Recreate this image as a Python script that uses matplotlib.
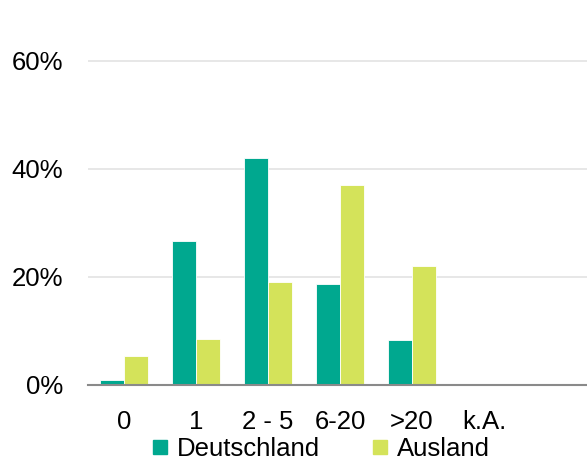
import matplotlib.pyplot as plt
from matplotlib.lines import Line2D
import numpy as np

categories = ["0", "1", "2 - 5", "6-20", ">20", "k.A.", ""]
deutschland = [0.009, 0.267, 0.420, 0.187, 0.083, 0.0, 0.0]
ausland = [0.054, 0.085, 0.190, 0.370, 0.220, 0.0, 0.0]
yticks = [0, 0.2, 0.4, 0.6]
ytick_labels = ["0%", "20%", "40%", "60%"]

teal = "#00A88F"
lime = "#D4E35A"

plt.rcParams['font.family'] = ['Liberation Sans', 'DejaVu Sans']
fs = 18.5

fig = plt.figure(figsize=(5.87, 4.68), dpi=100)
ax = fig.add_axes([88/587, 1 - 385/468, 1 - 88/587, (385 - 50.2)/468])

x = np.arange(len(categories))
w = 0.33
ax.bar(x - w/2, deutschland, w, color=teal, edgecolor="white", linewidth=0.6, zorder=3)
ax.bar(x + w/2, ausland, w, color=lime, edgecolor="white", linewidth=0.6, zorder=3)

ax.set_xlim(-0.5, 6.43)
ax.set_ylim(0, 0.62)
ax.set_yticks(yticks)
ax.set_yticklabels(ytick_labels, fontsize=fs)
ax.set_xticks(x)
ax.set_xticklabels(categories, fontsize=fs)
ax.tick_params(axis='y', length=0, pad=18)
ax.tick_params(axis='x', length=0, pad=18)
ax.grid(axis='y', color="#e3e3e3", linewidth=1.2, zorder=0)
for s in ['top', 'right', 'left']:
    ax.spines[s].set_visible(False)
ax.spines['bottom'].set_color("#8a8a8a")
ax.spines['bottom'].set_linewidth(1.5)
ax.spines['bottom'].set_zorder(4)

handles = [Line2D([], [], marker='s', linestyle='', color=teal, markersize=9.5),
           Line2D([], [], marker='s', linestyle='', color=lime, markersize=9.5)]
fig.legend(handles, ["Deutschland", "Ausland"], loc='center', bbox_to_anchor=(0.546, 1 - 449/468),
           ncol=2, frameon=False, fontsize=fs, handlelength=0.7, handletextpad=0.3,
           columnspacing=2.0, borderpad=0)

fig.savefig("out.png", dpi=100)
